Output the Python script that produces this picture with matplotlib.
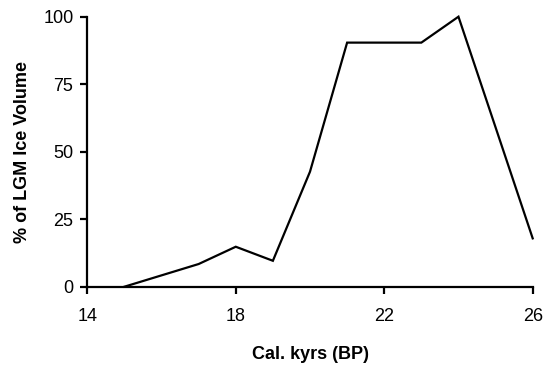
import matplotlib
matplotlib.use("Agg")
import matplotlib.pyplot as plt

kyrs = [15, 16, 17, 18, 19, 20, 21, 22, 23, 24, 25, 26]
ice_pct = [0, 4.2, 8.4, 14.8, 9.6, 42.6, 90.4, 90.4, 90.4, 100, 59, 17.9]
xticks = [14, 18, 22, 26]
yticks = [0, 25, 50, 75, 100]

plt.rcParams['font.family'] = ['Liberation Sans', 'DejaVu Sans']
fig = plt.figure(figsize=(5.47, 3.71), dpi=100)
ax = fig.add_axes([87.3/547, 1 - 286.7/371, (532.7-87.3)/547, (286.7-16.7)/371])
ax.plot(kyrs, ice_pct, color='black', lw=1.6, solid_joinstyle='miter', clip_on=False)
ax.set_xlim(14, 26)
ax.set_ylim(0, 100)
ax.set_xticks(xticks)
ax.set_yticks(yticks)
for s in ['top', 'right']:
    ax.spines[s].set_visible(False)
for s in ['left', 'bottom']:
    ax.spines[s].set_linewidth(1.6)
ax.tick_params(direction='out', length=5, width=1.6, labelsize=13)
ax.tick_params(axis='x', pad=10.5)
ax.tick_params(axis='y', pad=5)
ax.set_xlabel('Cal. kyrs (BP)', fontsize=13, fontweight='bold', labelpad=15)
ax.set_ylabel('% of LGM Ice Volume', fontsize=13, fontweight='bold', labelpad=9)
fig.savefig('out.png', dpi=100)
